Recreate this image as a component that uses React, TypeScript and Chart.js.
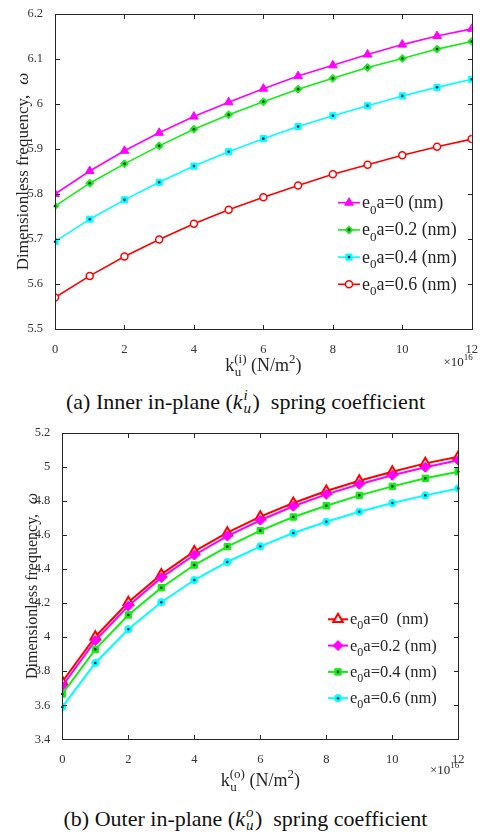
import React, { useEffect, useRef } from 'react';
import { Chart, registerables } from 'chart.js';

Chart.register(...registerables);

// ---------- data ----------
const K_VALUES = [0, 1, 2, 3, 4, 5, 6, 7, 8, 9, 10, 11, 12];

// Panel (a): inner in-plane spring coefficient
const A_LABELS = ['e₀a=0 (nm)', 'e₀a=0.2 (nm)', 'e₀a=0.4 (nm)', 'e₀a=0.6 (nm)'];
const A_E0 = [5.800, 5.851, 5.896, 5.936, 5.972, 6.004, 6.034, 6.062, 6.086, 6.110, 6.132, 6.151, 6.167];
const A_E02 = [5.773, 5.824, 5.867, 5.907, 5.944, 5.976, 6.005, 6.033, 6.057, 6.081, 6.101, 6.122, 6.139];
const A_E04 = [5.694, 5.744, 5.787, 5.826, 5.862, 5.894, 5.923, 5.950, 5.974, 5.996, 6.018, 6.037, 6.055];
const A_E06 = [5.570, 5.618, 5.661, 5.699, 5.734, 5.765, 5.793, 5.819, 5.844, 5.865, 5.886, 5.905, 5.922];
const A_Y_RANGE = [5.5, 6.2];
const A_Y_STEP = 0.1;

// Panel (b): outer in-plane spring coefficient
const B_LABELS = ['e₀a=0  (nm)', 'e₀a=0.2 (nm)', 'e₀a=0.4 (nm)', 'e₀a=0.6 (nm)'];
const B_E0 = [3.738, 4.002, 4.204, 4.368, 4.503, 4.613, 4.707, 4.787, 4.858, 4.918, 4.971, 5.020, 5.059];
const B_E02 = [3.713, 3.979, 4.182, 4.349, 4.482, 4.593, 4.686, 4.768, 4.838, 4.897, 4.950, 4.997, 5.038];
const B_E04 = [3.666, 3.928, 4.130, 4.290, 4.423, 4.531, 4.625, 4.705, 4.771, 4.832, 4.885, 4.932, 4.971];
const B_E06 = [3.589, 3.848, 4.046, 4.205, 4.335, 4.441, 4.533, 4.611, 4.677, 4.736, 4.787, 4.832, 4.873];
const B_Y_RANGE = [3.4, 5.2];
const B_Y_STEP = 0.2;

const X_RANGE = [0, 12];
const X_STEP = 2;

const Y_TITLE = 'Dimensionless frequency, ';
const Y_SYMBOL = 'ω';
const X_EXPONENT = '16';
const CAPTION_A = ['(a) Inner in-plane (', 'k', 'u', 'i', ')  spring coefficient'];
const CAPTION_B = ['(b) Outer in-plane (', 'k', 'u', 'o', ')  spring coefficient'];

const SERIF = '"Liberation Serif", "Times New Roman", serif';
const AXIS_COLOR = '#262626';
const DOT_COLOR = '#1c1c5a';

// ---------- helpers ----------
function pts(ys: number[]) {
  return K_VALUES.map((x, i) => ({ x, y: ys[i] }));
}

function drawMarker(ctx: CanvasRenderingContext2D, style: string, x: number, y: number, r: number) {
  ctx.beginPath();
  if (style === 'triangle') {
    let rad = 0;
    ctx.moveTo(x + Math.sin(rad) * r, y - Math.cos(rad) * r);
    rad += (2 * Math.PI) / 3;
    ctx.lineTo(x + Math.sin(rad) * r, y - Math.cos(rad) * r);
    rad += (2 * Math.PI) / 3;
    ctx.lineTo(x + Math.sin(rad) * r, y - Math.cos(rad) * r);
    ctx.closePath();
  } else if (style === 'rectRot') {
    ctx.moveTo(x - r, y);
    ctx.lineTo(x, y - r);
    ctx.lineTo(x + r, y);
    ctx.lineTo(x, y + r);
    ctx.closePath();
  } else if (style === 'rect') {
    const s = Math.SQRT1_2 * r;
    ctx.rect(x - s, y - s, 2 * s, 2 * s);
  } else {
    ctx.arc(x, y, r, 0, Math.PI * 2);
  }
}

const framePlugin = {
  id: 'frame',
  afterDatasetsDraw(chart: any) {
    const ctx = chart.ctx;
    chart.data.datasets.forEach((ds: any, i: number) => {
      if (!ds.centerDot) return;
      const meta = chart.getDatasetMeta(i);
      ctx.save();
      ctx.fillStyle = DOT_COLOR;
      meta.data.forEach((p: any) => {
        ctx.beginPath();
        ctx.arc(p.x, p.y, 1.3, 0, Math.PI * 2);
        ctx.fill();
      });
      ctx.restore();
    });
  },
  afterDraw(chart: any, _args: any, opts: any) {
    const ctx: CanvasRenderingContext2D = chart.ctx;
    const { left, right, top, bottom } = chart.chartArea;
    const L = Math.round(left) + 0.5;
    const R = Math.round(right) + 0.5;
    const T = Math.round(top) + 0.5;
    const B = Math.round(bottom) + 0.5;
    ctx.save();
    // box
    ctx.strokeStyle = AXIS_COLOR;
    ctx.lineWidth = 1;
    ctx.strokeRect(L, T, R - L, B - T);
    // inward ticks on all sides
    const tl = 4.5;
    const xs = chart.scales.x;
    const ys = chart.scales.y;
    ctx.beginPath();
    xs.ticks.forEach((t: any) => {
      const px = Math.round(xs.getPixelForValue(t.value)) + 0.5;
      ctx.moveTo(px, B);
      ctx.lineTo(px, B - tl);
      ctx.moveTo(px, T);
      ctx.lineTo(px, T + tl);
    });
    ys.ticks.forEach((t: any) => {
      const py = Math.round(ys.getPixelForValue(t.value)) + 0.5;
      ctx.moveTo(L, py);
      ctx.lineTo(L + tl, py);
      ctx.moveTo(R, py);
      ctx.lineTo(R - tl, py);
    });
    ctx.stroke();

    ctx.fillStyle = AXIS_COLOR;
    ctx.textBaseline = 'alphabetic';

    // y-axis title (rotated)
    const yt = opts.yTitle;
    ctx.save();
    const cy = (top + bottom) / 2;
    ctx.translate(yt.x, cy);
    ctx.rotate(-Math.PI / 2);
    ctx.font = `${yt.size}px ${SERIF}`;
    const w1 = ctx.measureText(Y_TITLE).width;
    ctx.font = `italic ${yt.size}px ${SERIF}`;
    const w2 = ctx.measureText(Y_SYMBOL).width;
    const gap = yt.size * 0.35;
    const startX = -(w1 + gap + w2) / 2;
    const bl = yt.size * 0.33;
    ctx.font = `${yt.size}px ${SERIF}`;
    ctx.textAlign = 'left';
    ctx.fillText(Y_TITLE, startX, bl);
    ctx.font = `italic ${yt.size}px ${SERIF}`;
    ctx.fillText(Y_SYMBOL, startX + w1 + gap, bl);
    ctx.restore();

    // x-axis title: k_u^(i) (N/m^2)
    const xt = opts.xTitle;
    const big = `${xt.size}px ${SERIF}`;
    const small = `${Math.round(xt.size * 0.7)}px ${SERIF}`;
    ctx.textAlign = 'left';
    ctx.font = big;
    const wk = ctx.measureText('k').width;
    const wMid = ctx.measureText(' (N/m').width;
    const wEnd = ctx.measureText(')').width;
    ctx.font = small;
    const wSub = ctx.measureText('u').width;
    const wSup = ctx.measureText(xt.sup).width;
    const wTwo = ctx.measureText('2').width;
    const wScript = Math.max(wSub, wSup);
    const total = wk + wScript + wMid + wTwo + wEnd;
    let x = (left + right) / 2 - total / 2;
    const by = xt.baseline;
    ctx.font = big;
    ctx.fillText('k', x, by);
    x += wk;
    ctx.font = small;
    ctx.fillText(xt.sup, x, by - xt.size * 0.45);
    ctx.fillText('u', x + 0.5, by + xt.size * 0.3);
    x += wScript;
    ctx.font = big;
    ctx.fillText(' (N/m', x, by);
    x += wMid;
    ctx.font = small;
    ctx.fillText('2', x, by - xt.size * 0.42);
    x += wTwo;
    ctx.font = big;
    ctx.fillText(')', x, by);

    // x exponent ×10^16
    const ex = opts.xExp;
    ctx.font = `${ex.size}px ${SERIF}`;
    const wx = ctx.measureText('×10').width;
    ctx.font = `${Math.round(ex.size * 0.72)}px ${SERIF}`;
    const we = ctx.measureText(X_EXPONENT).width;
    const ex0 = right - wx - we + 1;
    ctx.font = `${ex.size}px ${SERIF}`;
    ctx.fillText('×10', ex0, ex.baseline);
    ctx.font = `${Math.round(ex.size * 0.72)}px ${SERIF}`;
    ctx.fillText(X_EXPONENT, ex0 + wx, ex.baseline - ex.size * 0.45);

    // legend
    const lg = opts.legend;
    chart.data.datasets.forEach((ds: any, i: number) => {
      const y = lg.y0 + i * lg.dy;
      ctx.strokeStyle = ds.borderColor;
      ctx.lineWidth = ds.borderWidth;
      ctx.beginPath();
      ctx.moveTo(lg.x, y);
      ctx.lineTo(lg.x + lg.lineLen, y);
      ctx.stroke();
      const mx = lg.x + lg.lineLen / 2;
      drawMarker(ctx, ds.pointStyle, mx, y, ds.pointRadius);
      ctx.fillStyle = ds.pointBackgroundColor;
      ctx.fill();
      ctx.lineWidth = ds.pointBorderWidth;
      ctx.strokeStyle = ds.pointBorderColor;
      ctx.stroke();
      if (ds.centerDot) {
        ctx.fillStyle = DOT_COLOR;
        ctx.beginPath();
        ctx.arc(mx, y, 1.3, 0, Math.PI * 2);
        ctx.fill();
      }
      // text with subscript
      ctx.fillStyle = AXIS_COLOR;
      const parts = String(ds.label).split('₀');
      let tx = lg.x + lg.lineLen + 2;
      const tb = y + lg.size * 0.3;
      ctx.font = `${lg.size}px ${SERIF}`;
      ctx.fillText(parts[0], tx, tb);
      tx += ctx.measureText(parts[0]).width;
      ctx.font = `${Math.round(lg.size * 0.72)}px ${SERIF}`;
      ctx.fillText('0', tx, tb + lg.size * 0.3);
      tx += ctx.measureText('0').width;
      ctx.font = `${lg.size}px ${SERIF}`;
      ctx.fillText(parts[1] || '', tx, tb);
    });
    ctx.restore();
  },
};

type PanelCfg = {
  top: number;
  height: number;
  datasets: any[];
  yRange: number[];
  yStep: number;
  pad: { left: number; right: number; top: number };
  yWidth: number;
  xHeight: number;
  tickSize: number;
  frame: any;
};

function buildConfig(cfg: PanelCfg): any {
  const fmt = (v: any) => String(+Number(v).toFixed(2));
  return {
    type: 'line',
    data: { datasets: cfg.datasets },
    options: {
      animation: false,
      responsive: false,
      devicePixelRatio: 1,
      events: [],
      layout: { padding: { left: cfg.pad.left, right: cfg.pad.right, top: cfg.pad.top, bottom: 0 } },
      elements: { line: { tension: 0 } },
      plugins: {
        legend: { display: false },
        tooltip: { enabled: false },
        frame: cfg.frame,
      },
      scales: {
        x: {
          type: 'linear',
          min: X_RANGE[0],
          max: X_RANGE[1],
          grid: { display: false },
          border: { display: false },
          ticks: {
            stepSize: X_STEP,
            padding: 5,
            color: '#333',
            font: { family: SERIF, size: cfg.tickSize },
            maxRotation: 0,
            callback: fmt,
          },
          afterFit: (s: any) => {
            s.height = cfg.xHeight;
          },
        },
        y: {
          type: 'linear',
          min: cfg.yRange[0],
          max: cfg.yRange[1],
          grid: { display: false },
          border: { display: false },
          ticks: {
            stepSize: cfg.yStep,
            padding: 4,
            color: '#333',
            font: { family: SERIF, size: cfg.tickSize },
            callback: fmt,
          },
          afterFit: (s: any) => {
            s.width = cfg.yWidth;
          },
        },
      },
    },
    plugins: [framePlugin],
  };
}

function Panel({ cfg }: { cfg: PanelCfg }) {
  const ref = useRef<HTMLCanvasElement>(null);
  useEffect(() => {
    if (!ref.current) return;
    const chart = new Chart(ref.current, buildConfig(cfg));
    return () => chart.destroy();
  }, []);
  return (
    <canvas
      ref={ref}
      width={483}
      height={cfg.height}
      style={{ position: 'absolute', left: 0, top: cfg.top, width: 483, height: cfg.height }}
    />
  );
}

function series(label: string, data: number[], color: string, style: string, r: number, bg: string, bw: number, lw: number, order: number, dot: boolean) {
  return {
    label,
    data: pts(data),
    borderColor: color,
    backgroundColor: color,
    borderWidth: lw,
    pointStyle: style,
    pointRadius: r,
    pointBackgroundColor: bg,
    pointBorderColor: color,
    pointBorderWidth: bw,
    order,
    centerDot: dot,
    fill: false,
  };
}

const MAGENTA = '#ff00ff';
const GREEN = '#11ee11';
const CYAN = '#00ffff';
const RED = '#ff0000';

const PANEL_A: PanelCfg = {
  top: 0,
  height: 385,
  datasets: [
    series(A_LABELS[0], A_E0, MAGENTA, 'triangle', 5, MAGENTA, 1, 1.6, 4, false),
    series(A_LABELS[1], A_E02, GREEN, 'rectRot', 4, GREEN, 1, 1.6, 3, true),
    series(A_LABELS[2], A_E04, CYAN, 'rect', 4.3, CYAN, 1, 1.6, 2, true),
    series(A_LABELS[3], A_E06, RED, 'circle', 3.5, '#ffffff', 1.5, 1.6, 1, false),
  ],
  yRange: A_Y_RANGE,
  yStep: A_Y_STEP,
  pad: { left: 0, right: 9, top: 14 },
  yWidth: 55,
  xHeight: 56,
  tickSize: 12.5,
  frame: {
    yTitle: { x: 22, size: 17 },
    xTitle: { sup: '(i)', baseline: 371, size: 18 },
    xExp: { baseline: 366, size: 13 },
    legend: { x: 338, y0: 202.7, dy: 27.2, lineLen: 22, size: 18 },
  },
};

const PANEL_B: PanelCfg = {
  top: 415,
  height: 380,
  datasets: [
    series(B_LABELS[0], B_E0, RED, 'triangle', 5.5, '#ffffff', 2, 2, 4, false),
    series(B_LABELS[1], B_E02, MAGENTA, 'rectRot', 5, MAGENTA, 1, 2, 3, false),
    series(B_LABELS[2], B_E04, GREEN, 'rect', 4.5, GREEN, 1, 2, 2, true),
    series(B_LABELS[3], B_E06, CYAN, 'circle', 3.6, CYAN, 1, 2, 1, true),
  ],
  yRange: B_Y_RANGE,
  yStep: B_Y_STEP,
  pad: { left: 0, right: 24.7, top: 17.7 },
  yWidth: 62.3,
  xHeight: 55.7,
  tickSize: 12.5,
  frame: {
    yTitle: { x: 32, size: 16 },
    xTitle: { sup: '(o)', baseline: 370.7, size: 18 },
    xExp: { baseline: 359, size: 13 },
    legend: { x: 328, y0: 204.3, dy: 26.3, lineLen: 20, size: 16.5 },
  },
};

function Caption({ parts, top }: { parts: string[]; top: number }) {
  return (
    <div
      style={{
        position: 'absolute',
        left: 4,
        width: 483,
        top,
        textAlign: 'center',
        fontFamily: SERIF,
        fontSize: 22,
        lineHeight: '26px',
        color: '#111',
        whiteSpace: 'pre',
      }}
    >
      <span>{parts[0]}</span>
      <span style={{ fontStyle: 'italic' }}>{parts[1]}</span>
      <span style={{ display: 'inline-block', position: 'relative', width: 10, height: 0 }}>
        <span style={{ position: 'absolute', left: 1, top: -22, fontSize: 15, lineHeight: '17px', fontStyle: 'italic' }}>{parts[3]}</span>
        <span style={{ position: 'absolute', left: 1, top: -9, fontSize: 15, lineHeight: '17px', fontStyle: 'italic' }}>{parts[2]}</span>
      </span>
      <span>{parts[4]}</span>
    </div>
  );
}

export default function App() {
  return (
    <div style={{ position: 'absolute', left: 0, top: 0, width: 483, height: 836, background: '#fff', overflow: 'hidden' }}>
      <Panel cfg={PANEL_A} />
      <Caption parts={CAPTION_A} top={389} />
      <Panel cfg={PANEL_B} />
      <Caption parts={CAPTION_B} top={806} />
    </div>
  );
}
